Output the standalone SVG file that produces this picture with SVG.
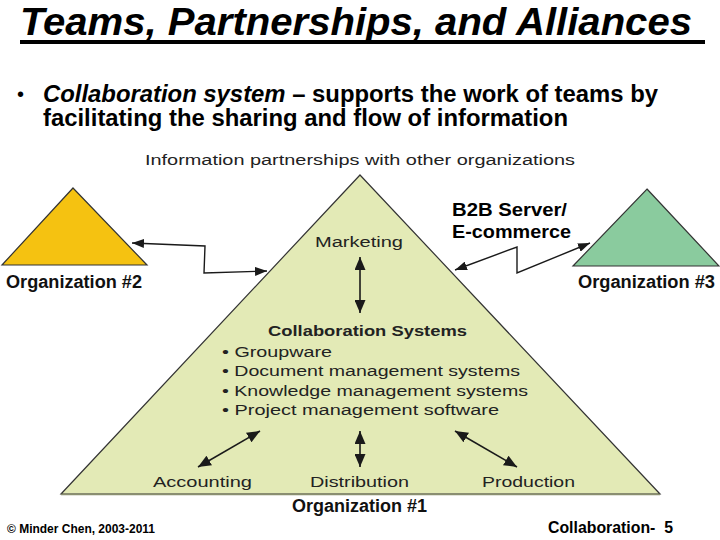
<svg xmlns="http://www.w3.org/2000/svg" width="720" height="540" viewBox="0 0 720 540">
<style>
.t{font-family:"Liberation Sans",Arial,sans-serif;}
.lbl{font-family:"Liberation Sans",Arial,sans-serif;font-size:15.5px;fill:#222;}
.org{font-family:"Liberation Sans",Arial,sans-serif;font-size:18px;font-weight:bold;fill:#111;}
.tri{stroke:#333;stroke-width:1.2;stroke-linejoin:miter;}
.con{fill:none;stroke:#1a1a1a;stroke-width:1.4;marker-start:url(#ah);marker-end:url(#ah);}
.con2{fill:none;stroke:#1a1a1a;stroke-width:1.6;marker-start:url(#ah2);marker-end:url(#ah2);}
</style>
<defs>
<marker id="ah" viewBox="0 0 12 9" refX="12" refY="4.5" markerWidth="12" markerHeight="9" markerUnits="userSpaceOnUse" orient="auto-start-reverse">
<path d="M0,0 L12,4.5 L0,9 z" fill="#1a1a1a"/>
</marker>
<marker id="ah2" viewBox="0 0 13 11" refX="13" refY="5.5" markerWidth="13" markerHeight="11" markerUnits="userSpaceOnUse" orient="auto-start-reverse">
<path d="M0,0 L13,5.5 L0,11 z" fill="#1a1a1a"/>
</marker>
</defs>
<rect width="720" height="540" fill="#fff"/>

<g id="title">
<text class="t" x="20" y="35" font-size="38" font-weight="bold" font-style="italic" fill="#000" textLength="672" lengthAdjust="spacingAndGlyphs">Teams, Partnerships, and Alliances</text>
<rect x="20" y="40" width="685" height="4" fill="#000"/>
</g>

<g id="bullet">
<text class="t" x="17" y="101" font-size="20" fill="#000">•</text>
<text class="t" x="43" y="102" font-size="23" font-weight="bold" fill="#000" textLength="615" lengthAdjust="spacingAndGlyphs"><tspan font-style="italic">Collaboration system</tspan> – supports the work of teams by</text>
<text class="t" x="43" y="126" font-size="23" font-weight="bold" fill="#000" textLength="525" lengthAdjust="spacingAndGlyphs">facilitating the sharing and flow of information</text>
</g>

<text class="lbl" x="145" y="165" fill="#333" textLength="430" lengthAdjust="spacingAndGlyphs">Information partnerships with other organizations</text>

<g id="org2">
<polygon class="tri" points="73,188 147,265 2,265" fill="#f5c211"/>
<text class="org" x="6" y="288" textLength="136" lengthAdjust="spacingAndGlyphs">Organization #2</text>
</g>

<g id="org3">
<polygon class="tri" points="647,189 719,266 573,266" fill="#8acb9e"/>
<text class="org" x="578" y="288" textLength="137" lengthAdjust="spacingAndGlyphs">Organization #3</text>
</g>

<g id="b2b">
<text class="t" x="452" y="216" font-size="19" font-weight="bold" fill="#000" textLength="115" lengthAdjust="spacingAndGlyphs">B2B Server/</text>
<text class="t" x="452" y="238" font-size="19" font-weight="bold" fill="#000" textLength="119" lengthAdjust="spacingAndGlyphs">E-commerce</text>
</g>

<g id="org1">
<polygon class="tri" points="360,175 660,494 61,494" fill="#e3eab6"/>
<line x1="61" y1="494.5" x2="660" y2="494.5" stroke="#8a8f70" stroke-width="1.5"/>
<text class="lbl" x="315" y="247" textLength="88" lengthAdjust="spacingAndGlyphs">Marketing</text>
<text class="lbl" x="268" y="336" font-weight="bold" fill="#111" textLength="199" lengthAdjust="spacingAndGlyphs">Collaboration Systems</text>
<text class="lbl" x="222" y="357" textLength="110" lengthAdjust="spacingAndGlyphs">• Groupware</text>
<text class="lbl" x="222" y="376" textLength="298" lengthAdjust="spacingAndGlyphs">• Document management systems</text>
<text class="lbl" x="222" y="396" textLength="306" lengthAdjust="spacingAndGlyphs">• Knowledge management systems</text>
<text class="lbl" x="222" y="415" textLength="277" lengthAdjust="spacingAndGlyphs">• Project management software</text>
<text class="lbl" x="153" y="487" textLength="99" lengthAdjust="spacingAndGlyphs">Accounting</text>
<text class="lbl" x="310" y="487" textLength="99" lengthAdjust="spacingAndGlyphs">Distribution</text>
<text class="lbl" x="482" y="487" textLength="93" lengthAdjust="spacingAndGlyphs">Production</text>
<text class="org" x="292" y="512" textLength="135" lengthAdjust="spacingAndGlyphs">Organization #1</text>
</g>

<g id="connectors">
<polyline class="con" points="132,243 205,246 204,273 267,271"/>
<polyline class="con" points="455,270 517,247 517,273 590,243"/>
<line class="con2" x1="360" y1="257" x2="360" y2="313"/>
<line class="con2" x1="260" y1="431" x2="198" y2="467"/>
<line class="con2" x1="360" y1="431" x2="360" y2="467"/>
<line class="con2" x1="455" y1="431" x2="517" y2="467"/>
</g>

<g id="footer">
<text class="t" x="7" y="533" font-size="12" font-weight="bold" fill="#000" textLength="148" lengthAdjust="spacingAndGlyphs">© Minder Chen, 2003-2011</text>
<text class="t" x="548" y="533" font-size="16" font-weight="bold" fill="#000" textLength="125" lengthAdjust="spacingAndGlyphs">Collaboration-&#160; 5</text>
</g>
</svg>
